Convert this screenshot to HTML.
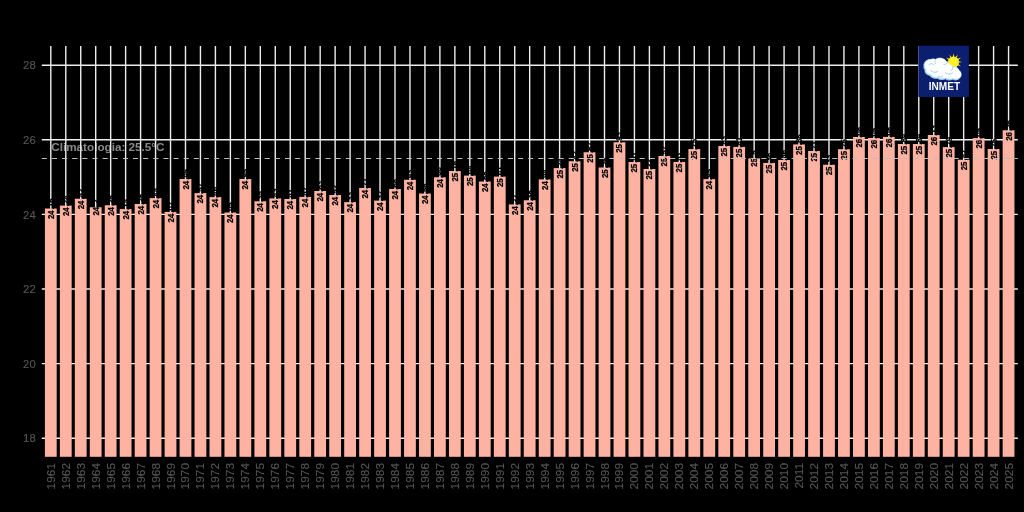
<!DOCTYPE html>
<html lang="pt-BR"><head><meta charset="utf-8"><title>Temperatura media anual - INMET</title>
<style>html,body{margin:0;padding:0;background:#000;overflow:hidden}svg{display:block}text{font-family:"Liberation Sans",Arial,Helvetica,sans-serif}.ax{font-size:11.3px;fill:#565656;stroke:#565656;stroke-width:0.12px}.lb{font-size:8.3px;font-weight:bold;fill:#000;stroke:#000;stroke-width:0.22px}.an{font-size:11.7px;font-weight:bold;fill:#8a8a8a}.lg{font-size:10.9px;font-weight:bold;fill:#fff}</style></head><body>
<svg width="1024" height="512" viewBox="0 0 1024 512">
<rect x="0" y="0" width="1024" height="512" fill="#000"/>
<text class="an" x="51.3" y="151">Climatologia: 25.5°C</text>
<g stroke="#EDEDED" stroke-width="1.4" fill="none">
<line x1="50.80" y1="46.10" x2="50.80" y2="455.80"/>
<line x1="65.77" y1="46.10" x2="65.77" y2="455.80"/>
<line x1="80.73" y1="46.10" x2="80.73" y2="455.80"/>
<line x1="95.69" y1="46.10" x2="95.69" y2="455.80"/>
<line x1="110.66" y1="46.10" x2="110.66" y2="455.80"/>
<line x1="125.62" y1="46.10" x2="125.62" y2="455.80"/>
<line x1="140.59" y1="46.10" x2="140.59" y2="455.80"/>
<line x1="155.56" y1="46.10" x2="155.56" y2="455.80"/>
<line x1="170.52" y1="46.10" x2="170.52" y2="455.80"/>
<line x1="185.49" y1="46.10" x2="185.49" y2="455.80"/>
<line x1="200.45" y1="46.10" x2="200.45" y2="455.80"/>
<line x1="215.42" y1="46.10" x2="215.42" y2="455.80"/>
<line x1="230.38" y1="46.10" x2="230.38" y2="455.80"/>
<line x1="245.34" y1="46.10" x2="245.34" y2="455.80"/>
<line x1="260.31" y1="46.10" x2="260.31" y2="455.80"/>
<line x1="275.27" y1="46.10" x2="275.27" y2="455.80"/>
<line x1="290.24" y1="46.10" x2="290.24" y2="455.80"/>
<line x1="305.20" y1="46.10" x2="305.20" y2="455.80"/>
<line x1="320.17" y1="46.10" x2="320.17" y2="455.80"/>
<line x1="335.13" y1="46.10" x2="335.13" y2="455.80"/>
<line x1="350.10" y1="46.10" x2="350.10" y2="455.80"/>
<line x1="365.06" y1="46.10" x2="365.06" y2="455.80"/>
<line x1="380.03" y1="46.10" x2="380.03" y2="455.80"/>
<line x1="395.00" y1="46.10" x2="395.00" y2="455.80"/>
<line x1="409.96" y1="46.10" x2="409.96" y2="455.80"/>
<line x1="424.93" y1="46.10" x2="424.93" y2="455.80"/>
<line x1="439.89" y1="46.10" x2="439.89" y2="455.80"/>
<line x1="454.86" y1="46.10" x2="454.86" y2="455.80"/>
<line x1="469.82" y1="46.10" x2="469.82" y2="455.80"/>
<line x1="484.79" y1="46.10" x2="484.79" y2="455.80"/>
<line x1="499.75" y1="46.10" x2="499.75" y2="455.80"/>
<line x1="514.72" y1="46.10" x2="514.72" y2="455.80"/>
<line x1="529.68" y1="46.10" x2="529.68" y2="455.80"/>
<line x1="544.64" y1="46.10" x2="544.64" y2="455.80"/>
<line x1="559.61" y1="46.10" x2="559.61" y2="455.80"/>
<line x1="574.57" y1="46.10" x2="574.57" y2="455.80"/>
<line x1="589.54" y1="46.10" x2="589.54" y2="455.80"/>
<line x1="604.50" y1="46.10" x2="604.50" y2="455.80"/>
<line x1="619.47" y1="46.10" x2="619.47" y2="455.80"/>
<line x1="634.43" y1="46.10" x2="634.43" y2="455.80"/>
<line x1="649.40" y1="46.10" x2="649.40" y2="455.80"/>
<line x1="664.36" y1="46.10" x2="664.36" y2="455.80"/>
<line x1="679.33" y1="46.10" x2="679.33" y2="455.80"/>
<line x1="694.29" y1="46.10" x2="694.29" y2="455.80"/>
<line x1="709.26" y1="46.10" x2="709.26" y2="455.80"/>
<line x1="724.22" y1="46.10" x2="724.22" y2="455.80"/>
<line x1="739.19" y1="46.10" x2="739.19" y2="455.80"/>
<line x1="754.15" y1="46.10" x2="754.15" y2="455.80"/>
<line x1="769.12" y1="46.10" x2="769.12" y2="455.80"/>
<line x1="784.08" y1="46.10" x2="784.08" y2="455.80"/>
<line x1="799.05" y1="46.10" x2="799.05" y2="455.80"/>
<line x1="814.01" y1="46.10" x2="814.01" y2="455.80"/>
<line x1="828.98" y1="46.10" x2="828.98" y2="455.80"/>
<line x1="843.94" y1="46.10" x2="843.94" y2="455.80"/>
<line x1="858.91" y1="46.10" x2="858.91" y2="455.80"/>
<line x1="873.88" y1="46.10" x2="873.88" y2="455.80"/>
<line x1="888.84" y1="46.10" x2="888.84" y2="455.80"/>
<line x1="903.80" y1="46.10" x2="903.80" y2="455.80"/>
<line x1="918.77" y1="46.10" x2="918.77" y2="455.80"/>
<line x1="933.73" y1="46.10" x2="933.73" y2="455.80"/>
<line x1="948.70" y1="46.10" x2="948.70" y2="455.80"/>
<line x1="963.66" y1="46.10" x2="963.66" y2="455.80"/>
<line x1="978.63" y1="46.10" x2="978.63" y2="455.80"/>
<line x1="993.59" y1="46.10" x2="993.59" y2="455.80"/>
<line x1="1008.56" y1="46.10" x2="1008.56" y2="455.80"/>
<line x1="41.80" y1="438.20" x2="1017.80" y2="438.20"/>
<line x1="41.80" y1="363.60" x2="1017.80" y2="363.60"/>
<line x1="41.80" y1="289.00" x2="1017.80" y2="289.00"/>
<line x1="41.80" y1="214.40" x2="1017.80" y2="214.40"/>
<line x1="41.80" y1="139.80" x2="1017.80" y2="139.80"/>
<line x1="41.80" y1="65.20" x2="1017.80" y2="65.20"/>
</g>
<g fill="#FEB2A2">
<rect x="44.90" y="208.50" width="11.80" height="248.30"/>
<rect x="59.87" y="205.60" width="11.80" height="251.20"/>
<rect x="74.83" y="198.75" width="11.80" height="258.05"/>
<rect x="89.79" y="207.25" width="11.80" height="249.55"/>
<rect x="104.76" y="205.25" width="11.80" height="251.55"/>
<rect x="119.72" y="209.10" width="11.80" height="247.70"/>
<rect x="134.69" y="204.00" width="11.80" height="252.80"/>
<rect x="149.66" y="198.10" width="11.80" height="258.70"/>
<rect x="164.62" y="211.90" width="11.80" height="244.90"/>
<rect x="179.59" y="179.00" width="11.80" height="277.80"/>
<rect x="194.55" y="193.10" width="11.80" height="263.70"/>
<rect x="209.52" y="197.10" width="11.80" height="259.70"/>
<rect x="224.48" y="212.50" width="11.80" height="244.30"/>
<rect x="239.44" y="179.00" width="11.80" height="277.80"/>
<rect x="254.41" y="201.25" width="11.80" height="255.55"/>
<rect x="269.38" y="198.40" width="11.80" height="258.40"/>
<rect x="284.34" y="199.00" width="11.80" height="257.80"/>
<rect x="299.31" y="196.90" width="11.80" height="259.90"/>
<rect x="314.27" y="191.00" width="11.80" height="265.80"/>
<rect x="329.24" y="195.00" width="11.80" height="261.80"/>
<rect x="344.20" y="202.10" width="11.80" height="254.70"/>
<rect x="359.17" y="188.00" width="11.80" height="268.80"/>
<rect x="374.13" y="200.60" width="11.80" height="256.20"/>
<rect x="389.10" y="189.00" width="11.80" height="267.80"/>
<rect x="404.06" y="179.75" width="11.80" height="277.05"/>
<rect x="419.03" y="193.50" width="11.80" height="263.30"/>
<rect x="433.99" y="177.25" width="11.80" height="279.55"/>
<rect x="448.96" y="171.00" width="11.80" height="285.80"/>
<rect x="463.92" y="175.60" width="11.80" height="281.20"/>
<rect x="478.89" y="181.50" width="11.80" height="275.30"/>
<rect x="493.85" y="176.60" width="11.80" height="280.20"/>
<rect x="508.82" y="204.40" width="11.80" height="252.40"/>
<rect x="523.78" y="200.25" width="11.80" height="256.55"/>
<rect x="538.75" y="179.40" width="11.80" height="277.40"/>
<rect x="553.71" y="168.10" width="11.80" height="288.70"/>
<rect x="568.67" y="161.25" width="11.80" height="295.55"/>
<rect x="583.64" y="152.25" width="11.80" height="304.55"/>
<rect x="598.61" y="167.50" width="11.80" height="289.30"/>
<rect x="613.57" y="142.25" width="11.80" height="314.55"/>
<rect x="628.53" y="162.00" width="11.80" height="294.80"/>
<rect x="643.50" y="169.00" width="11.80" height="287.80"/>
<rect x="658.46" y="155.90" width="11.80" height="300.90"/>
<rect x="673.43" y="161.90" width="11.80" height="294.90"/>
<rect x="688.39" y="149.10" width="11.80" height="307.70"/>
<rect x="703.36" y="179.10" width="11.80" height="277.70"/>
<rect x="718.32" y="146.00" width="11.80" height="310.80"/>
<rect x="733.29" y="146.90" width="11.80" height="309.90"/>
<rect x="748.25" y="158.40" width="11.80" height="298.40"/>
<rect x="763.22" y="162.90" width="11.80" height="293.90"/>
<rect x="778.18" y="160.00" width="11.80" height="296.80"/>
<rect x="793.15" y="144.40" width="11.80" height="312.40"/>
<rect x="808.12" y="151.00" width="11.80" height="305.80"/>
<rect x="823.08" y="164.75" width="11.80" height="292.05"/>
<rect x="838.04" y="149.20" width="11.80" height="307.60"/>
<rect x="853.01" y="137.00" width="11.80" height="319.80"/>
<rect x="867.98" y="138.00" width="11.80" height="318.80"/>
<rect x="882.94" y="136.90" width="11.80" height="319.90"/>
<rect x="897.90" y="144.00" width="11.80" height="312.80"/>
<rect x="912.87" y="144.00" width="11.80" height="312.80"/>
<rect x="927.83" y="135.00" width="11.80" height="321.80"/>
<rect x="942.80" y="147.10" width="11.80" height="309.70"/>
<rect x="957.76" y="159.75" width="11.80" height="297.05"/>
<rect x="972.73" y="138.10" width="11.80" height="318.70"/>
<rect x="987.69" y="149.00" width="11.80" height="307.80"/>
<rect x="1002.66" y="130.25" width="11.80" height="326.55"/>
</g>
<g class="lb" text-anchor="middle">
<text transform="translate(50.80,208.50) rotate(-90) scale(0.95,1)" x="-0.2" y="3">24<tspan dx="1">.16</tspan></text>
<text transform="translate(65.77,205.60) rotate(-90) scale(0.95,1)" x="-0.2" y="3">24<tspan dx="1">.24</tspan></text>
<text transform="translate(80.73,198.75) rotate(-90) scale(0.95,1)" x="-0.2" y="3">24<tspan dx="1">.42</tspan></text>
<text transform="translate(95.69,207.25) rotate(-90) scale(0.95,1)" x="-0.2" y="3">24<tspan dx="1">.2</tspan></text>
<text transform="translate(110.66,205.25) rotate(-90) scale(0.95,1)" x="-0.2" y="3">24<tspan dx="1">.25</tspan></text>
<text transform="translate(125.62,209.10) rotate(-90) scale(0.95,1)" x="-0.2" y="3">24<tspan dx="1">.14</tspan></text>
<text transform="translate(140.59,204.00) rotate(-90) scale(0.95,1)" x="-0.2" y="3">24<tspan dx="1">.28</tspan></text>
<text transform="translate(155.56,198.10) rotate(-90) scale(0.95,1)" x="-0.2" y="3">24<tspan dx="1">.44</tspan></text>
<text transform="translate(170.52,211.90) rotate(-90) scale(0.95,1)" x="-0.2" y="3">24<tspan dx="1">.07</tspan></text>
<text transform="translate(185.49,179.00) rotate(-90) scale(0.95,1)" x="-0.2" y="3">24<tspan dx="1">.95</tspan></text>
<text transform="translate(200.45,193.10) rotate(-90) scale(0.95,1)" x="-0.2" y="3">24<tspan dx="1">.57</tspan></text>
<text transform="translate(215.42,197.10) rotate(-90) scale(0.95,1)" x="-0.2" y="3">24<tspan dx="1">.46</tspan></text>
<text transform="translate(230.38,212.50) rotate(-90) scale(0.95,1)" x="-0.2" y="3">24<tspan dx="1">.05</tspan></text>
<text transform="translate(245.34,179.00) rotate(-90) scale(0.95,1)" x="-0.2" y="3">24<tspan dx="1">.95</tspan></text>
<text transform="translate(260.31,201.25) rotate(-90) scale(0.95,1)" x="-0.2" y="3">24<tspan dx="1">.35</tspan></text>
<text transform="translate(275.27,198.40) rotate(-90) scale(0.95,1)" x="-0.2" y="3">24<tspan dx="1">.43</tspan></text>
<text transform="translate(290.24,199.00) rotate(-90) scale(0.95,1)" x="-0.2" y="3">24<tspan dx="1">.41</tspan></text>
<text transform="translate(305.20,196.90) rotate(-90) scale(0.95,1)" x="-0.2" y="3">24<tspan dx="1">.47</tspan></text>
<text transform="translate(320.17,191.00) rotate(-90) scale(0.95,1)" x="-0.2" y="3">24<tspan dx="1">.63</tspan></text>
<text transform="translate(335.13,195.00) rotate(-90) scale(0.95,1)" x="-0.2" y="3">24<tspan dx="1">.52</tspan></text>
<text transform="translate(350.10,202.10) rotate(-90) scale(0.95,1)" x="-0.2" y="3">24<tspan dx="1">.33</tspan></text>
<text transform="translate(365.06,188.00) rotate(-90) scale(0.95,1)" x="-0.2" y="3">24<tspan dx="1">.71</tspan></text>
<text transform="translate(380.03,200.60) rotate(-90) scale(0.95,1)" x="-0.2" y="3">24<tspan dx="1">.37</tspan></text>
<text transform="translate(395.00,189.00) rotate(-90) scale(0.95,1)" x="-0.2" y="3">24<tspan dx="1">.68</tspan></text>
<text transform="translate(409.96,179.75) rotate(-90) scale(0.95,1)" x="-0.2" y="3">24<tspan dx="1">.93</tspan></text>
<text transform="translate(424.93,193.50) rotate(-90) scale(0.95,1)" x="-0.2" y="3">24<tspan dx="1">.56</tspan></text>
<text transform="translate(439.89,177.25) rotate(-90) scale(0.95,1)" x="-0.2" y="3">24<tspan dx="1">.99</tspan></text>
<text transform="translate(454.86,171.00) rotate(-90) scale(0.95,1)" x="-0.2" y="3">25<tspan dx="1">.16</tspan></text>
<text transform="translate(469.82,175.60) rotate(-90) scale(0.95,1)" x="-0.2" y="3">25<tspan dx="1">.04</tspan></text>
<text transform="translate(484.79,181.50) rotate(-90) scale(0.95,1)" x="-0.2" y="3">24<tspan dx="1">.88</tspan></text>
<text transform="translate(499.75,176.60) rotate(-90) scale(0.95,1)" x="-0.2" y="3">25<tspan dx="1">.01</tspan></text>
<text transform="translate(514.72,204.40) rotate(-90) scale(0.95,1)" x="-0.2" y="3">24<tspan dx="1">.27</tspan></text>
<text transform="translate(529.68,200.25) rotate(-90) scale(0.95,1)" x="-0.2" y="3">24<tspan dx="1">.38</tspan></text>
<text transform="translate(544.64,179.40) rotate(-90) scale(0.95,1)" x="-0.2" y="3">24<tspan dx="1">.94</tspan></text>
<text transform="translate(559.61,168.10) rotate(-90) scale(0.95,1)" x="-0.2" y="3">25<tspan dx="1">.24</tspan></text>
<text transform="translate(574.57,161.25) rotate(-90) scale(0.95,1)" x="-0.2" y="3">25<tspan dx="1">.42</tspan></text>
<text transform="translate(589.54,152.25) rotate(-90) scale(0.95,1)" x="-0.2" y="3">25<tspan dx="1">.67</tspan></text>
<text transform="translate(604.50,167.50) rotate(-90) scale(0.95,1)" x="-0.2" y="3">25<tspan dx="1">.26</tspan></text>
<text transform="translate(619.47,142.25) rotate(-90) scale(0.95,1)" x="-0.2" y="3">25<tspan dx="1">.93</tspan></text>
<text transform="translate(634.43,162.00) rotate(-90) scale(0.95,1)" x="-0.2" y="3">25<tspan dx="1">.41</tspan></text>
<text transform="translate(649.40,169.00) rotate(-90) scale(0.95,1)" x="-0.2" y="3">25<tspan dx="1">.22</tspan></text>
<text transform="translate(664.36,155.90) rotate(-90) scale(0.95,1)" x="-0.2" y="3">25<tspan dx="1">.57</tspan></text>
<text transform="translate(679.33,161.90) rotate(-90) scale(0.95,1)" x="-0.2" y="3">25<tspan dx="1">.41</tspan></text>
<text transform="translate(694.29,149.10) rotate(-90) scale(0.95,1)" x="-0.2" y="3">25<tspan dx="1">.75</tspan></text>
<text transform="translate(709.26,179.10) rotate(-90) scale(0.95,1)" x="-0.2" y="3">24<tspan dx="1">.95</tspan></text>
<text transform="translate(724.22,146.00) rotate(-90) scale(0.95,1)" x="-0.2" y="3">25<tspan dx="1">.83</tspan></text>
<text transform="translate(739.19,146.90) rotate(-90) scale(0.95,1)" x="-0.2" y="3">25<tspan dx="1">.81</tspan></text>
<text transform="translate(754.15,158.40) rotate(-90) scale(0.95,1)" x="-0.2" y="3">25<tspan dx="1">.5</tspan></text>
<text transform="translate(769.12,162.90) rotate(-90) scale(0.95,1)" x="-0.2" y="3">25<tspan dx="1">.38</tspan></text>
<text transform="translate(784.08,160.00) rotate(-90) scale(0.95,1)" x="-0.2" y="3">25<tspan dx="1">.46</tspan></text>
<text transform="translate(799.05,144.40) rotate(-90) scale(0.95,1)" x="-0.2" y="3">25<tspan dx="1">.88</tspan></text>
<text transform="translate(814.01,151.00) rotate(-90) scale(0.95,1)" x="-0.2" y="3">25<tspan dx="1">.71</tspan></text>
<text transform="translate(828.98,164.75) rotate(-90) scale(0.95,1)" x="-0.2" y="3">25<tspan dx="1">.33</tspan></text>
<text transform="translate(843.94,149.20) rotate(-90) scale(0.95,1)" x="-0.2" y="3">25<tspan dx="1">.75</tspan></text>
<text transform="translate(858.91,137.00) rotate(-90) scale(0.95,1)" x="-0.2" y="3">26<tspan dx="1">.08</tspan></text>
<text transform="translate(873.88,138.00) rotate(-90) scale(0.95,1)" x="-0.2" y="3">26<tspan dx="1">.05</tspan></text>
<text transform="translate(888.84,136.90) rotate(-90) scale(0.95,1)" x="-0.2" y="3">26<tspan dx="1">.08</tspan></text>
<text transform="translate(903.80,144.00) rotate(-90) scale(0.95,1)" x="-0.2" y="3">25<tspan dx="1">.89</tspan></text>
<text transform="translate(918.77,144.00) rotate(-90) scale(0.95,1)" x="-0.2" y="3">25<tspan dx="1">.89</tspan></text>
<text transform="translate(933.73,135.00) rotate(-90) scale(0.95,1)" x="-0.2" y="3">26<tspan dx="1">.13</tspan></text>
<text transform="translate(948.70,147.10) rotate(-90) scale(0.95,1)" x="-0.2" y="3">25<tspan dx="1">.79</tspan></text>
<text transform="translate(963.66,159.75) rotate(-90) scale(0.95,1)" x="-0.2" y="3">25<tspan dx="1">.47</tspan></text>
<text transform="translate(978.63,138.10) rotate(-90) scale(0.95,1)" x="-0.2" y="3">26<tspan dx="1">.05</tspan></text>
<text transform="translate(993.59,149.00) rotate(-90) scale(0.95,1)" x="-0.2" y="3">25<tspan dx="1">.75</tspan></text>
<text transform="translate(1008.56,130.25) rotate(-90) scale(0.95,1)" x="-0.2" y="3">26<tspan dx="1">.26</tspan></text>
</g>
<line x1="41.80" y1="158.45" x2="1017.80" y2="158.45" stroke="#bdbdbd" stroke-width="1.15" stroke-dasharray="5.07 5.063" fill="none"/>
<g class="ax" text-anchor="end">
<text x="35.7" y="442.30">18</text>
<text x="35.7" y="367.70">20</text>
<text x="35.7" y="293.10">22</text>
<text x="35.7" y="218.50">24</text>
<text x="35.7" y="143.90">26</text>
<text x="35.7" y="69.30">28</text>
</g>
<g class="ax" text-anchor="end">
<text transform="translate(50.80,463.0) scale(1,1.05) rotate(-90)" x="0" y="4">1961</text>
<text transform="translate(65.77,463.0) scale(1,1.05) rotate(-90)" x="0" y="4">1962</text>
<text transform="translate(80.73,463.0) scale(1,1.05) rotate(-90)" x="0" y="4">1963</text>
<text transform="translate(95.69,463.0) scale(1,1.05) rotate(-90)" x="0" y="4">1964</text>
<text transform="translate(110.66,463.0) scale(1,1.05) rotate(-90)" x="0" y="4">1965</text>
<text transform="translate(125.62,463.0) scale(1,1.05) rotate(-90)" x="0" y="4">1966</text>
<text transform="translate(140.59,463.0) scale(1,1.05) rotate(-90)" x="0" y="4">1967</text>
<text transform="translate(155.56,463.0) scale(1,1.05) rotate(-90)" x="0" y="4">1968</text>
<text transform="translate(170.52,463.0) scale(1,1.05) rotate(-90)" x="0" y="4">1969</text>
<text transform="translate(185.49,463.0) scale(1,1.05) rotate(-90)" x="0" y="4">1970</text>
<text transform="translate(200.45,463.0) scale(1,1.05) rotate(-90)" x="0" y="4">1971</text>
<text transform="translate(215.42,463.0) scale(1,1.05) rotate(-90)" x="0" y="4">1972</text>
<text transform="translate(230.38,463.0) scale(1,1.05) rotate(-90)" x="0" y="4">1973</text>
<text transform="translate(245.34,463.0) scale(1,1.05) rotate(-90)" x="0" y="4">1974</text>
<text transform="translate(260.31,463.0) scale(1,1.05) rotate(-90)" x="0" y="4">1975</text>
<text transform="translate(275.27,463.0) scale(1,1.05) rotate(-90)" x="0" y="4">1976</text>
<text transform="translate(290.24,463.0) scale(1,1.05) rotate(-90)" x="0" y="4">1977</text>
<text transform="translate(305.20,463.0) scale(1,1.05) rotate(-90)" x="0" y="4">1978</text>
<text transform="translate(320.17,463.0) scale(1,1.05) rotate(-90)" x="0" y="4">1979</text>
<text transform="translate(335.13,463.0) scale(1,1.05) rotate(-90)" x="0" y="4">1980</text>
<text transform="translate(350.10,463.0) scale(1,1.05) rotate(-90)" x="0" y="4">1981</text>
<text transform="translate(365.06,463.0) scale(1,1.05) rotate(-90)" x="0" y="4">1982</text>
<text transform="translate(380.03,463.0) scale(1,1.05) rotate(-90)" x="0" y="4">1983</text>
<text transform="translate(395.00,463.0) scale(1,1.05) rotate(-90)" x="0" y="4">1984</text>
<text transform="translate(409.96,463.0) scale(1,1.05) rotate(-90)" x="0" y="4">1985</text>
<text transform="translate(424.93,463.0) scale(1,1.05) rotate(-90)" x="0" y="4">1986</text>
<text transform="translate(439.89,463.0) scale(1,1.05) rotate(-90)" x="0" y="4">1987</text>
<text transform="translate(454.86,463.0) scale(1,1.05) rotate(-90)" x="0" y="4">1988</text>
<text transform="translate(469.82,463.0) scale(1,1.05) rotate(-90)" x="0" y="4">1989</text>
<text transform="translate(484.79,463.0) scale(1,1.05) rotate(-90)" x="0" y="4">1990</text>
<text transform="translate(499.75,463.0) scale(1,1.05) rotate(-90)" x="0" y="4">1991</text>
<text transform="translate(514.72,463.0) scale(1,1.05) rotate(-90)" x="0" y="4">1992</text>
<text transform="translate(529.68,463.0) scale(1,1.05) rotate(-90)" x="0" y="4">1993</text>
<text transform="translate(544.64,463.0) scale(1,1.05) rotate(-90)" x="0" y="4">1994</text>
<text transform="translate(559.61,463.0) scale(1,1.05) rotate(-90)" x="0" y="4">1995</text>
<text transform="translate(574.57,463.0) scale(1,1.05) rotate(-90)" x="0" y="4">1996</text>
<text transform="translate(589.54,463.0) scale(1,1.05) rotate(-90)" x="0" y="4">1997</text>
<text transform="translate(604.50,463.0) scale(1,1.05) rotate(-90)" x="0" y="4">1998</text>
<text transform="translate(619.47,463.0) scale(1,1.05) rotate(-90)" x="0" y="4">1999</text>
<text transform="translate(634.43,463.0) scale(1,1.05) rotate(-90)" x="0" y="4">2000</text>
<text transform="translate(649.40,463.0) scale(1,1.05) rotate(-90)" x="0" y="4">2001</text>
<text transform="translate(664.36,463.0) scale(1,1.05) rotate(-90)" x="0" y="4">2002</text>
<text transform="translate(679.33,463.0) scale(1,1.05) rotate(-90)" x="0" y="4">2003</text>
<text transform="translate(694.29,463.0) scale(1,1.05) rotate(-90)" x="0" y="4">2004</text>
<text transform="translate(709.26,463.0) scale(1,1.05) rotate(-90)" x="0" y="4">2005</text>
<text transform="translate(724.22,463.0) scale(1,1.05) rotate(-90)" x="0" y="4">2006</text>
<text transform="translate(739.19,463.0) scale(1,1.05) rotate(-90)" x="0" y="4">2007</text>
<text transform="translate(754.15,463.0) scale(1,1.05) rotate(-90)" x="0" y="4">2008</text>
<text transform="translate(769.12,463.0) scale(1,1.05) rotate(-90)" x="0" y="4">2009</text>
<text transform="translate(784.08,463.0) scale(1,1.05) rotate(-90)" x="0" y="4">2010</text>
<text transform="translate(799.05,463.0) scale(1,1.05) rotate(-90)" x="0" y="4">2011</text>
<text transform="translate(814.01,463.0) scale(1,1.05) rotate(-90)" x="0" y="4">2012</text>
<text transform="translate(828.98,463.0) scale(1,1.05) rotate(-90)" x="0" y="4">2013</text>
<text transform="translate(843.94,463.0) scale(1,1.05) rotate(-90)" x="0" y="4">2014</text>
<text transform="translate(858.91,463.0) scale(1,1.05) rotate(-90)" x="0" y="4">2015</text>
<text transform="translate(873.88,463.0) scale(1,1.05) rotate(-90)" x="0" y="4">2016</text>
<text transform="translate(888.84,463.0) scale(1,1.05) rotate(-90)" x="0" y="4">2017</text>
<text transform="translate(903.80,463.0) scale(1,1.05) rotate(-90)" x="0" y="4">2018</text>
<text transform="translate(918.77,463.0) scale(1,1.05) rotate(-90)" x="0" y="4">2019</text>
<text transform="translate(933.73,463.0) scale(1,1.05) rotate(-90)" x="0" y="4">2020</text>
<text transform="translate(948.70,463.0) scale(1,1.05) rotate(-90)" x="0" y="4">2021</text>
<text transform="translate(963.66,463.0) scale(1,1.05) rotate(-90)" x="0" y="4">2022</text>
<text transform="translate(978.63,463.0) scale(1,1.05) rotate(-90)" x="0" y="4">2023</text>
<text transform="translate(993.59,463.0) scale(1,1.05) rotate(-90)" x="0" y="4">2024</text>
<text transform="translate(1008.56,463.0) scale(1,1.05) rotate(-90)" x="0" y="4">2025</text>
</g>
<g id="logo">
<rect x="918.3" y="45.8" width="50.6" height="51.2" fill="#0c1f6e"/>
<polygon points="952.70,57.06 953.50,53.60 954.30,57.06" fill="#ffe81a"/>
<polygon points="955.28,57.33 957.70,54.73 956.66,58.12" fill="#ffe81a"/>
<polygon points="957.38,58.84 960.77,57.80 958.17,60.22" fill="#ffe81a"/>
<polygon points="958.44,61.20 961.90,62.00 958.44,62.80" fill="#ffe81a"/>
<polygon points="958.17,63.78 960.77,66.20 957.38,65.16" fill="#ffe81a"/>
<polygon points="956.66,65.88 957.70,69.27 955.28,66.67" fill="#ffe81a"/>
<polygon points="954.30,66.94 953.50,70.40 952.70,66.94" fill="#ffe81a"/>
<polygon points="951.72,66.67 949.30,69.27 950.34,65.88" fill="#ffe81a"/>
<polygon points="949.62,65.16 946.23,66.20 948.83,63.78" fill="#ffe81a"/>
<polygon points="948.56,62.80 945.10,62.00 948.56,61.20" fill="#ffe81a"/>
<polygon points="948.83,60.22 946.23,57.80 949.62,58.84" fill="#ffe81a"/>
<polygon points="950.34,58.12 949.30,54.73 951.72,57.33" fill="#ffe81a"/>
<circle cx="953.5" cy="62.0" r="5.5" fill="#ffee22"/>
<defs><clipPath id="cc"><path d="M924.0 67.0 C923.2 62.5 926.5 59.5 930.5 59.6 C932.5 58.6 934.5 58.8 935.5 59.6 C937.5 57.6 942.5 57.6 945.0 60.0 C946.0 60.8 946.6 61.6 947.0 62.6 C949.5 63.5 951.5 65.5 952.6 67.0 C955.5 66.6 958.5 68.0 959.0 70.5 C961.5 72.0 962.0 76.0 959.5 78.2 C958.0 80.2 954.5 80.4 952.5 79.2 C950.5 80.4 947.0 80.2 945.5 78.8 C943.0 80.0 939.5 79.8 937.5 78.2 C934.5 78.8 931.0 77.5 929.5 75.2 C926.5 74.8 924.4 72.5 925.2 70.0 C924.2 69.2 923.9 68.0 924.0 67.0 Z"/></clipPath></defs>
<path fill="#b7e0fb" stroke="#a6d8fb" stroke-width="0.9" stroke-linejoin="round" d="M924.0 67.0 C923.2 62.5 926.5 59.5 930.5 59.6 C932.5 58.6 934.5 58.8 935.5 59.6 C937.5 57.6 942.5 57.6 945.0 60.0 C946.0 60.8 946.6 61.6 947.0 62.6 C949.5 63.5 951.5 65.5 952.6 67.0 C955.5 66.6 958.5 68.0 959.0 70.5 C961.5 72.0 962.0 76.0 959.5 78.2 C958.0 80.2 954.5 80.4 952.5 79.2 C950.5 80.4 947.0 80.2 945.5 78.8 C943.0 80.0 939.5 79.8 937.5 78.2 C934.5 78.8 931.0 77.5 929.5 75.2 C926.5 74.8 924.4 72.5 925.2 70.0 C924.2 69.2 923.9 68.0 924.0 67.0 Z"/>
<g clip-path="url(#cc)"><path fill="#ffffff" transform="translate(1.0,-1.2)" d="M924.0 67.0 C923.2 62.5 926.5 59.5 930.5 59.6 C932.5 58.6 934.5 58.8 935.5 59.6 C937.5 57.6 942.5 57.6 945.0 60.0 C946.0 60.8 946.6 61.6 947.0 62.6 C949.5 63.5 951.5 65.5 952.6 67.0 C955.5 66.6 958.5 68.0 959.0 70.5 C961.5 72.0 962.0 76.0 959.5 78.2 C958.0 80.2 954.5 80.4 952.5 79.2 C950.5 80.4 947.0 80.2 945.5 78.8 C943.0 80.0 939.5 79.8 937.5 78.2 C934.5 78.8 931.0 77.5 929.5 75.2 C926.5 74.8 924.4 72.5 925.2 70.0 C924.2 69.2 923.9 68.0 924.0 67.0 Z"/></g>
<g fill="none" stroke="#8fcaf2" stroke-width="0.85" stroke-linecap="round">
<path d="M929.0 64.5 C930.5 63.2 932.5 63.4 933.6 64.6"/>
<path d="M930.5 70.5 C932.5 72.6 935.5 72.8 937.5 71.6"/>
<path d="M935.6 59.8 C934.6 61.0 934.6 62.6 935.4 63.6"/>
<path d="M945.5 72.6 C947.5 74.6 950.5 74.6 952.4 73.0"/>
<path d="M947.2 62.8 C946.4 64.0 945.0 64.6 943.8 64.4"/>
<path d="M952.8 67.2 C953.0 68.6 952.4 69.8 951.4 70.4"/>
<path d="M938.0 76.6 C939.6 77.4 941.6 77.2 942.8 76.2"/>
</g>
<text class="lg" x="944.4" y="89.5" text-anchor="middle" textLength="31.4" lengthAdjust="spacingAndGlyphs">INMET</text>
</g>
</svg></body></html>
